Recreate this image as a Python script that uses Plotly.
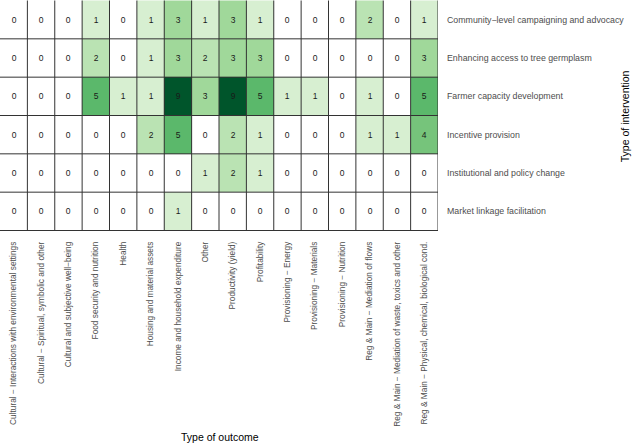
import plotly.graph_objects as go

outcomes = [
    "Cultural − Interactions with environmental settings",
    "Cultural − Spiritual, symbolic and other",
    "Cultural and subjective well−being",
    "Food security and nutrition",
    "Health",
    "Housing and material assets",
    "Income and household expenditure",
    "Other",
    "Productivity (yield)",
    "Profitability",
    "Provisioning − Energy",
    "Provisioning − Materials",
    "Provisioning − Nutrition",
    "Reg & Main − Mediation of flows",
    "Reg & Main − Mediation of waste, toxics and other",
    "Reg & Main − Physical, chemical, biological cond.",
]

interventions = [
    "Community−level campaigning and advocacy",
    "Enhancing access to tree germplasm",
    "Farmer capacity development",
    "Incentive provision",
    "Institutional and policy change",
    "Market linkage facilitation",
]

counts_community = [0, 0, 0, 1, 0, 1, 3, 1, 3, 1, 0, 0, 0, 2, 0, 1]
counts_germplasm = [0, 0, 0, 2, 0, 1, 3, 2, 3, 3, 0, 0, 0, 0, 0, 3]
counts_farmer = [0, 0, 0, 5, 1, 1, 9, 3, 9, 5, 1, 1, 0, 1, 0, 5]
counts_incentive = [0, 0, 0, 0, 0, 2, 5, 0, 2, 1, 0, 0, 0, 1, 1, 4]
counts_institutional = [0, 0, 0, 0, 0, 0, 0, 1, 2, 1, 0, 0, 0, 0, 0, 0]
counts_market = [0, 0, 0, 0, 0, 0, 1, 0, 0, 0, 0, 0, 0, 0, 0, 0]

z = [counts_community, counts_germplasm, counts_farmer,
     counts_incentive, counts_institutional, counts_market]

colorscale = [
    [0.0, "#ffffff"],
    [1 / 9, "#d7efd1"],
    [2 / 9, "#bae3b3"],
    [3 / 9, "#a0d89a"],
    [4 / 9, "#76c47b"],
    [5 / 9, "#5bb86b"],
    [7 / 9, "#268a45"],
    [1.0, "#00552b"],
]

fig = go.Figure(go.Heatmap(
    z=z, x=outcomes, y=interventions,
    zmin=0, zmax=9, colorscale=colorscale, showscale=False,
    texttemplate="%{z}",
    textfont=dict(size=8.5, color="#1a1a1a", family="Liberation Sans, Arial"),
    hoverinfo="skip",
))

# cell borders
line_style = dict(color="#333333", width=1)
nx, ny = len(outcomes), len(interventions)
for i in range(nx):
    fig.add_shape(type="line", xref="x", yref="y",
                  x0=i + 0.5, x1=i + 0.5, y0=-0.5, y1=ny - 0.5, line=line_style)
for j in range(ny):
    fig.add_shape(type="line", xref="x", yref="y",
                  x0=-0.5, x1=nx - 0.5, y0=j + 0.5, y1=j + 0.5, line=line_style)

fig.add_annotation(text="Type of outcome", xref="paper", yref="paper",
                   x=0.502, y=-0.892, xanchor="center", yanchor="middle",
                   showarrow=False, font=dict(size=10.5, color="#000000"))
fig.add_annotation(text="Type of intervention", xref="paper", yref="paper",
                   x=1.427, y=0.497, xanchor="center", yanchor="middle",
                   textangle=-90, showarrow=False,
                   font=dict(size=10.5, color="#000000"))

fig.update_layout(
    width=633, height=447,
    margin=dict(l=0, r=195, t=0, b=216),
    paper_bgcolor="white", plot_bgcolor="white",
    font=dict(family="Liberation Sans, Arial", color="#4d4d4d"),
    xaxis=dict(type="category", tickangle=-90, showgrid=False, zeroline=False,
               automargin=False,
               ticks="", ticklabelstandoff=8, tickfont=dict(size=8.3, color="#4d4d4d"),
               range=[-0.5, nx - 0.5]),
    yaxis=dict(type="category", side="right", autorange="reversed", showgrid=False,
               automargin=False,
               zeroline=False, ticks="", ticklabelstandoff=8,
               tickfont=dict(size=8.8, color="#4d4d4d")),
)

fig.write_html("out.html", config={"displayModeBar": False},
               post_script="document.body.style.margin='0';document.body.style.overflow='hidden';")
